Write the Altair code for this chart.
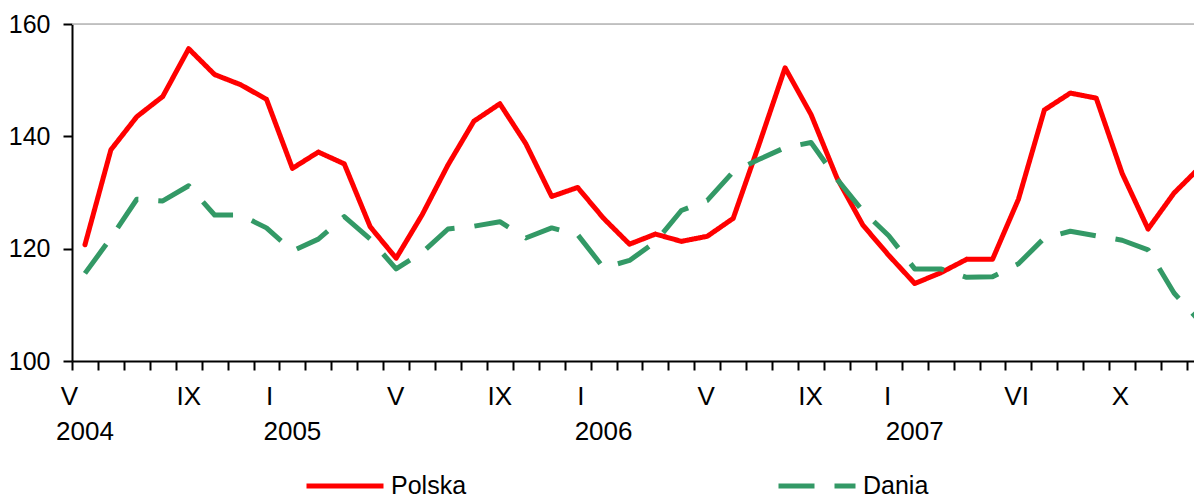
import altair as alt
import pandas as pd

# Monthly index, May 2004 .. Dec 2007 (44 months)
month_index = list(range(44))

polska = [120.7, 137.6, 143.5, 147.1, 155.6, 151.0, 149.2, 146.6, 134.3, 137.2,
          135.1, 123.9, 118.3, 126.0, 134.9, 142.7, 145.8, 138.7, 129.3, 130.9,
          125.4, 120.8, 122.6, 121.3, 122.2, 125.4, 138.6, 152.2, 143.9, 132.6,
          124.2, 118.8, 113.8, 115.7, 118.1, 118.1, 128.8, 144.7, 147.7, 146.8,
          133.4, 123.5, 129.9, 134.5]

dania = [115.6, 121.9, 128.8, 128.5, 131.2, 126.0, 126.0, 123.7, 119.6, 121.7,
         125.7, 121.7, 116.4, 119.3, 123.5, 124.0, 124.8, 121.9, 123.7, 122.5,
         116.6, 117.9, 121.2, 126.8, 128.6, 133.7, 135.9, 138.0, 138.9, 132.4,
         126.7, 122.3, 116.4, 116.4, 114.9, 115.0, 117.3, 121.9, 123.1, 122.3,
         121.5, 119.8, 112.1, 107.0]

series_names = ["Polska", "Dania"]
series_colors = ["#FF0000", "#339966"]

# Category-axis labels (month row and year row) and the slot they sit under
month_labels = ["V", "IX", "I", "V", "IX", "I", "V", "IX", "I", "VI", "X"]
month_label_slots = [-0.6, 4.0, 7.12, 11.98, 16.0, 19.12, 23.96, 27.98, 30.95, 35.93, 39.93]
year_labels = ["2004", "2005", "2006", "2007"]
year_label_slots = [0, 8, 20, 32]

y_ticks = [100, 120, 140, 160]
x_tick_slots = [i - 0.5 for i in range(44)]

FONT = "Liberation Sans"
PLOT_W = 1122
PLOT_H = 337
SLOT_PX = 25.93
AXIS_FS = 26

rows = []
for i, v in zip(month_index, polska):
    rows.append({"idx": i, "value": v, "series": "Polska"})
for i, v in zip(month_index, dania):
    rows.append({"idx": i, "value": v, "series": "Dania"})
df = pd.DataFrame(rows)

xscale = alt.Scale(domain=[-0.5, -0.5 + PLOT_W / SLOT_PX], nice=False, zero=False)
yscale = alt.Scale(domain=[100, 160], nice=False, zero=False)


def legend():
    return alt.Legend(
        title=None, orient="none", legendX=232, legendY=421,
        direction="horizontal", symbolType="stroke", symbolSize=5929,
        symbolStrokeWidth=5, labelFontSize=25, labelFont=FONT,
        labelColor="black", labelOffset=5, columnPadding=301, padding=0,
        labelLimit=300,
    )


color_enc = alt.Color(
    "series:N",
    scale=alt.Scale(domain=series_names, range=series_colors),
    legend=legend(),
)
dash_enc = alt.StrokeDash(
    "series:N",
    scale=alt.Scale(domain=series_names, range=[[1, 0], [36, 20]]),
    legend=legend(),
)

x_axis = alt.Axis(values=x_tick_slots, tickCount=200, labels=False, tickSize=9,
                  tickWidth=2, tickColor="black", domainColor="black",
                  domainWidth=2, grid=False)
y_axis = alt.Axis(values=y_ticks, tickSize=9, tickWidth=2, tickColor="black",
                  domainColor="black", domainWidth=2, grid=False,
                  labelFontSize=25, labelFont=FONT, labelColor="black",
                  labelPadding=13)

x_enc = alt.X("idx:Q", scale=xscale, title=None, axis=x_axis)
y_enc = alt.Y("value:Q", scale=yscale, title=None, axis=y_axis)

base = alt.Chart(df)

top_rule = alt.Chart(pd.DataFrame({"value": [160]})).mark_rule(
    color="#b4b4b4", strokeWidth=1.5
).encode(y=y_enc)

pl = base.transform_filter(alt.datum.series == "Polska").mark_line(
    strokeWidth=5, strokeJoin="round", strokeCap="round"
).encode(x=x_enc, y=y_enc, color=color_enc, strokeDash=dash_enc)

dk = base.transform_filter(alt.datum.series == "Dania").mark_line(
    strokeWidth=5, strokeJoin="round", strokeCap="butt"
).encode(x=x_enc, y=y_enc, color=color_enc, strokeDash=dash_enc)

mdf = pd.DataFrame({"idx": month_label_slots, "txt": month_labels})
ydf = pd.DataFrame({"idx": year_label_slots, "txt": year_labels})

mtext = alt.Chart(mdf).mark_text(
    font=FONT, fontSize=AXIS_FS, color="black", baseline="middle", align="center"
).encode(x=x_enc, y=alt.value(373), text="txt:N")

ytext = alt.Chart(ydf).mark_text(
    font=FONT, fontSize=AXIS_FS, color="black", baseline="middle", align="center"
).encode(x=x_enc, y=alt.value(407.5), text="txt:N")

chart = alt.layer(top_rule, pl, dk, mtext, ytext).properties(
    width=PLOT_W, height=PLOT_H,
    autosize=alt.AutoSizeParams(type="none"),
    padding={"left": 64, "top": 16, "right": 0, "bottom": 137},
).configure_view(stroke=None).configure(font=FONT)

chart.save("out.html", embed_options={"renderer": "svg", "actions": False})
